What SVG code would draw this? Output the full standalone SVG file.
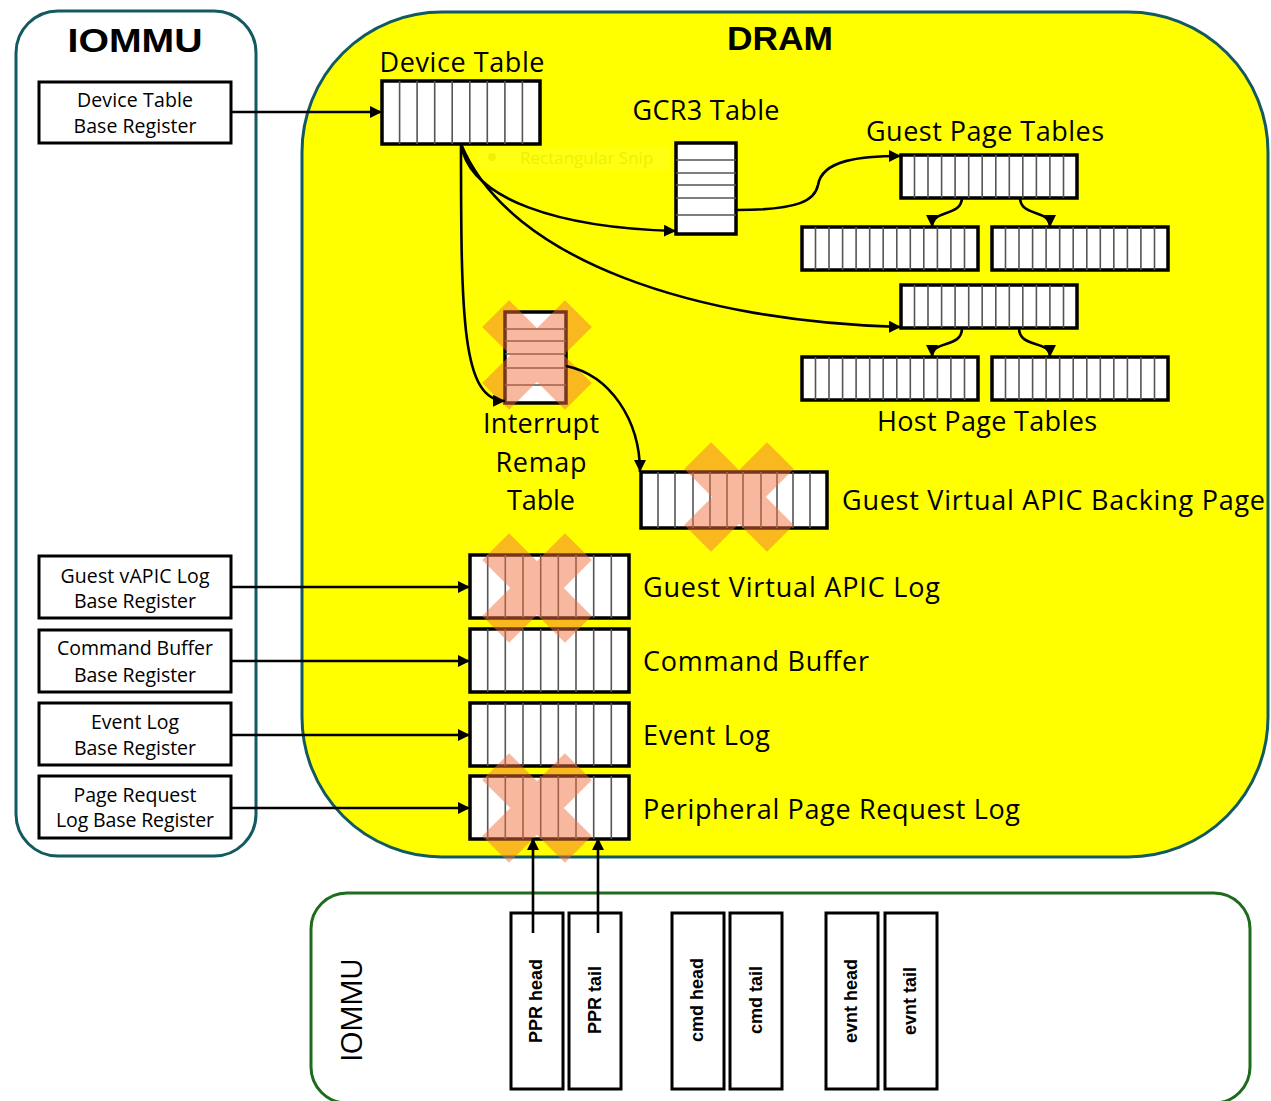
<svg xmlns="http://www.w3.org/2000/svg" width="1271" height="1101" viewBox="0 0 1271 1101">
  <style>
    .lbl { font-family: "Open Sans", "Liberation Sans", sans-serif; fill: #000; }
    .reg { font-size: 19.5px; text-anchor: middle; }
    .big { font-size: 27px; }
    .mid { text-anchor: middle; }
    .title { font-family: "Liberation Sans", Arial, sans-serif; font-weight: bold; font-size: 33px; text-anchor: middle; }
    .ptr { font-family: "Liberation Sans", Arial, sans-serif; font-weight: bold; font-size: 18px; text-anchor: middle; }
    .box { fill: #fff; stroke: #000; stroke-width: 3; }
    .tbl { fill: #fff; stroke: #000; stroke-width: 3.5; }
    .cell { stroke: #555; stroke-width: 1.6; fill: none; }
    .conn { fill: none; stroke: #000; stroke-width: 2.6; }
    .xmark { fill: #f1703d; }
  </style>
  <defs>
    <marker id="arrow" markerUnits="userSpaceOnUse" markerWidth="14" markerHeight="12" refX="12" refY="6" orient="auto">
      <path d="M0,0 L12,6 L0,12 Z" fill="#000"/>
    </marker>
    <!-- 13-cell page table row -->
    <g id="pt13">
      <rect class="tbl" x="0" y="0" width="176" height="43"/>
      <path class="cell" d="M13.5,0V43M27,0V43M40.6,0V43M54.1,0V43M67.7,0V43M81.2,0V43M94.8,0V43M108.3,0V43M121.8,0V43M135.4,0V43M148.9,0V43M162.5,0V43"/>
    </g>
    <!-- 9-cell log ring buffer -->
    <g id="log9">
      <rect class="tbl" x="0" y="0" width="159" height="63"/>
      <path class="cell" d="M17.7,0V63M35.3,0V63M53,0V63M70.7,0V63M88.3,0V63M106,0V63M123.7,0V63M141.3,0V63"/>
    </g>
    <!-- cross mark: two bars merged, blended as one -->
    <g id="cross">
      <rect x="-58.5" y="-19" width="117" height="38" transform="rotate(45)"/>
      <rect x="-58.5" y="-19" width="117" height="38" transform="rotate(-45)"/>
    </g>
  </defs>

  <!-- memory region -->
  <g id="dram">
    <rect x="302" y="12" width="966" height="845" rx="140" ry="140" fill="#ffff00" stroke="#135a60" stroke-width="3"/>
    <text class="title" x="780" y="50" textLength="106" lengthAdjust="spacingAndGlyphs">DRAM</text>
  </g>

  <!-- faint leftover clipping tag -->
  <g id="snip-tag" opacity="0.5">
    <rect x="478" y="147" width="192" height="23" fill="#ffffff" opacity="0.15"/>
    <circle cx="492" cy="157" r="4" fill="#e6e600"/>
    <text x="520" y="164" font-family="'Open Sans', sans-serif" font-size="17" fill="#e0e000">Rectangular Snip</text>
  </g>

  <!-- IOMMU register file -->
  <g id="iommu-regs">
    <rect x="16" y="11" width="240" height="845" rx="42" ry="42" fill="#fff" stroke="#135a60" stroke-width="3"/>
    <text class="title" x="135" y="52" textLength="135" lengthAdjust="spacingAndGlyphs">IOMMU</text>
  </g>

  <g id="reg-devtab">
    <rect class="box" x="39" y="82" width="192" height="61"/>
    <text class="lbl reg" x="135" y="107" textLength="116">Device Table</text>
    <text class="lbl reg" x="135" y="133" textLength="123">Base Register</text>
  </g>
  <g id="reg-vapic">
    <rect class="box" x="39" y="556" width="192" height="62"/>
    <text class="lbl reg" x="135" y="583" textLength="149">Guest vAPIC Log</text>
    <text class="lbl reg" x="135" y="608" textLength="122">Base Register</text>
  </g>
  <g id="reg-cmd">
    <rect class="box" x="39" y="630" width="192" height="62"/>
    <text class="lbl reg" x="135" y="655" textLength="156">Command Buffer</text>
    <text class="lbl reg" x="135" y="682" textLength="122">Base Register</text>
  </g>
  <g id="reg-evt">
    <rect class="box" x="39" y="703" width="192" height="62"/>
    <text class="lbl reg" x="135" y="729" textLength="88">Event Log</text>
    <text class="lbl reg" x="135" y="755" textLength="122">Base Register</text>
  </g>
  <g id="reg-ppr">
    <rect class="box" x="39" y="776" width="192" height="62"/>
    <text class="lbl reg" x="135" y="802" textLength="123">Page Request</text>
    <text class="lbl reg" x="135" y="827" textLength="158">Log Base Register</text>
  </g>

  <!-- in-memory tables -->
  <g id="device-table">
    <text class="lbl big mid" x="462" y="72" textLength="165">Device Table</text>
    <rect class="tbl" x="382" y="81" width="158" height="63"/>
    <path class="cell" d="M399.6,81V144M417.1,81V144M434.7,81V144M452.2,81V144M469.8,81V144M487.3,81V144M504.9,81V144M522.4,81V144"/>
  </g>

  <g id="gcr3-table">
    <text class="lbl big mid" x="706" y="120" textLength="147">GCR3 Table</text>
    <rect class="tbl" x="676" y="143" width="60" height="91"/>
    <path class="cell" d="M676,160H736M676,173H736M676,185H736M676,198H736M676,215H736"/>
  </g>

  <g id="guest-page-tables">
    <text class="lbl big mid" x="985" y="141" textLength="238">Guest Page Tables</text>
    <use href="#pt13" x="901" y="155"/>
    <use href="#pt13" x="802" y="227"/>
    <use href="#pt13" x="992" y="227"/>
  </g>

  <g id="host-page-tables">
    <use href="#pt13" x="901" y="285"/>
    <use href="#pt13" x="802" y="357"/>
    <use href="#pt13" x="992" y="357"/>
    <text class="lbl big mid" x="987" y="431" textLength="220">Host Page Tables</text>
  </g>

  <g id="interrupt-remap-table">
    <rect class="tbl" x="505" y="312" width="61" height="91"/>
    <path class="cell" d="M505,329H566M505,341H566M505,354H566M505,368H566M505,385H566"/>
    <text class="lbl big mid" x="541" y="433" textLength="116">Interrupt</text>
    <text class="lbl big mid" x="541" y="472" textLength="91">Remap</text>
    <text class="lbl big mid" x="541" y="510" textLength="68">Table</text>
  </g>

  <g id="vapic-backing-page">
    <rect class="tbl" x="641" y="472" width="186" height="56"/>
    <path class="cell" d="M658,472V528M675,472V528M693,472V528M710,472V528M727,472V528M743,472V528M761,472V528M777,472V528M793,472V528M810,472V528"/>
    <text class="lbl big" x="842" y="510" textLength="423">Guest Virtual APIC Backing Page</text>
  </g>

  <g id="vapic-log">
    <use href="#log9" x="470" y="555"/>
    <text class="lbl big" x="643" y="597" textLength="297">Guest Virtual APIC Log</text>
  </g>
  <g id="command-buffer">
    <use href="#log9" x="470" y="629"/>
    <text class="lbl big" x="643" y="671" textLength="226">Command Buffer</text>
  </g>
  <g id="event-log">
    <use href="#log9" x="470" y="703"/>
    <text class="lbl big" x="643" y="745" textLength="127">Event Log</text>
  </g>
  <g id="ppr-log">
    <use href="#log9" x="470" y="776"/>
    <text class="lbl big" x="643" y="819" textLength="377">Peripheral Page Request Log</text>
  </g>

  <!-- removed structures are crossed out -->
  <g id="crossed-out" class="xmark" opacity="0.49">
    <use href="#cross" x="537" y="355"/>
  </g>
  <g class="xmark" opacity="0.49">
    <use href="#cross" x="739" y="497"/>
  </g>
  <g class="xmark" opacity="0.49">
    <use href="#cross" x="537" y="588"/>
  </g>
  <g class="xmark" opacity="0.49">
    <use href="#cross" x="537" y="808"/>
  </g>

  <!-- on-chip IOMMU pointer registers -->
  <g id="iommu-ptrs">
    <rect x="311" y="893" width="939" height="210" rx="36" ry="36" fill="#fff" stroke="#1d6b1d" stroke-width="3"/>
    <text font-family="'Open Sans', sans-serif" font-size="30" text-anchor="middle" textLength="104" transform="translate(362,1010) rotate(-90)">IOMMU</text>
  </g>
  <g id="ppr-head">
    <rect class="box" x="511" y="913" width="52" height="176"/>
    <text class="ptr" transform="translate(542,1001) rotate(-90)">PPR head</text>
  </g>
  <g id="ppr-tail">
    <rect class="box" x="569" y="913" width="52" height="176"/>
    <text class="ptr" transform="translate(601,1000) rotate(-90)">PPR tail</text>
  </g>
  <g id="cmd-head">
    <rect class="box" x="672" y="913" width="52" height="176"/>
    <text class="ptr" transform="translate(703,1000) rotate(-90)">cmd head</text>
  </g>
  <g id="cmd-tail">
    <rect class="box" x="730" y="913" width="52" height="176"/>
    <text class="ptr" transform="translate(762,1000) rotate(-90)">cmd tail</text>
  </g>
  <g id="evnt-head">
    <rect class="box" x="826" y="913" width="52" height="176"/>
    <text class="ptr" transform="translate(857,1001) rotate(-90)">evnt head</text>
  </g>
  <g id="evnt-tail">
    <rect class="box" x="885" y="913" width="52" height="176"/>
    <text class="ptr" transform="translate(916,1001) rotate(-90)">evnt tail</text>
  </g>

  <!-- connectors -->
  <g id="connectors" class="conn" marker-end="url(#arrow)">
    <path d="M231,112H382"/>
    <path d="M231,587H470"/>
    <path d="M231,661H470"/>
    <path d="M231,735H470"/>
    <path d="M231,808H470"/>
    <path d="M461,144C470,200 560,228 676,231"/>
    <path d="M461,144C510,262 700,322 901,327"/>
    <path d="M461,144C461,320 462,400 505,401"/>
    <path d="M737,210C800,210 815,200 818,185C822,160 860,156 901,156"/>
    <path d="M566,366C610,375 640,420 640,472"/>
    <path d="M962,197C962,218 932,208 932,227"/>
    <path d="M1020,197C1020,218 1050,208 1050,227"/>
    <path d="M962,328C962,349 932,339 932,357"/>
    <path d="M1019,328C1019,349 1050,339 1050,357"/>
    <path d="M533,933V838"/>
    <path d="M598,933V838"/>
  </g>
</svg>
